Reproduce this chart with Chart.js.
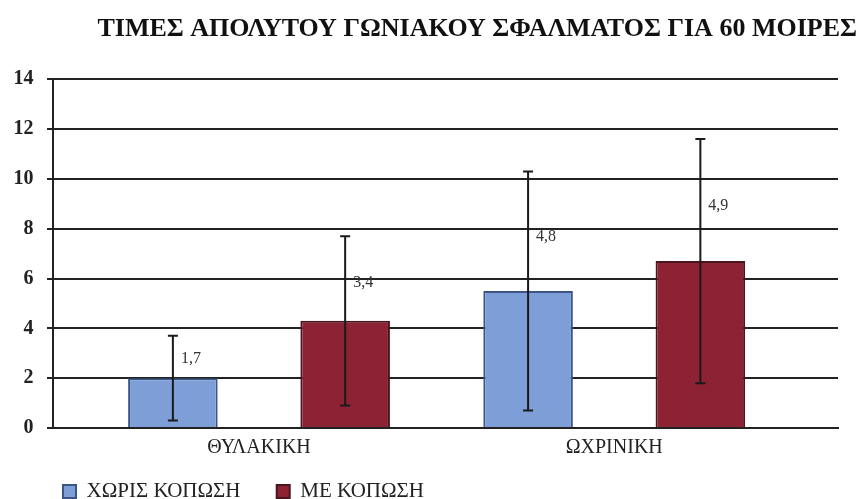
<!DOCTYPE html>
<html>
<head>
<meta charset="utf-8">
<script src="https://cdn.jsdelivr.net/npm/chart.js@4"></script>
<style>
  html, body { margin: 0; padding: 0; background: #fff; }
  #wrap { width: 860px; height: 499px; }
</style>
</head>
<body>
<div id="wrap"><canvas id="chart" width="860" height="499"></canvas></div>
<script>
// Datos del gráfico
const categories = ['ΘΥΛΑΚΙΚΗ', 'ΩΧΡΙΝΙΚΗ'];
const seriesNames = ['ΧΩΡΙΣ ΚΟΠΩΣΗ', 'ΜΕ ΚΟΠΩΣΗ'];
const withoutFatigue = [2.0, 5.5];
const withFatigue = [4.3, 6.7];
const sdWithout = [1.7, 4.8];
const sdWith = [3.4, 4.9];
const sdLabels = [['1,7', '4,8'], ['3,4', '4,9']];
const yTicks = [0, 2, 4, 6, 8, 10, 12, 14];

const serif = "'Liberation Serif', 'DejaVu Serif', serif";

// plugin para barras de error y etiquetas
const errorBars = {
  id: 'errorBars',
  afterDatasetsDraw(chart) {
    const ctx = chart.ctx;
    const y = chart.scales.y;
    const sds = [sdWithout, sdWith];
    chart.data.datasets.forEach((ds, di) => {
      const meta = chart.getDatasetMeta(di);
      meta.data.forEach((bar, i) => {
        const mean = ds.data[i].y;
        const sd = sds[di][i];
        const top = y.getPixelForValue(mean + sd);
        const bot = y.getPixelForValue(mean - sd);
        ctx.save();
        ctx.strokeStyle = '#1a1a1a';
        ctx.lineWidth = 2;
        ctx.beginPath();
        ctx.moveTo(bar.x, top);
        ctx.lineTo(bar.x, bot);
        ctx.moveTo(bar.x - 5, top);
        ctx.lineTo(bar.x + 5, top);
        ctx.moveTo(bar.x - 5, bot);
        ctx.lineTo(bar.x + 5, bot);
        ctx.stroke();
        ctx.fillStyle = '#333';
        ctx.font = '16px ' + serif;
        ctx.textAlign = 'left';
        ctx.textBaseline = 'middle';
        ctx.fillText(sdLabels[di][i], bar.x + 8, y.getPixelForValue(mean + sd * 0.45));
        ctx.restore();
      });
    });
  }
};

const ctx = document.getElementById('chart').getContext('2d');
new Chart(ctx, {
  type: 'bar',
  data: {
    datasets: [{
      label: seriesNames[0],
      data: withoutFatigue.map((v, i) => ({ x: i, y: v })),
      backgroundColor: '#7e9ed8',
      borderColor: '#3b5584',
      borderWidth: 2
    }, {
      label: seriesNames[1],
      data: withFatigue.map((v, i) => ({ x: i, y: v })),
      backgroundColor: '#8d2234',
      borderColor: '#4a161e',
      borderWidth: 2
    }]
  },
  options: {
    responsive: false,
    animation: false,
    layout: { padding: { left: 0, right: 3, top: 0, bottom: -13 } },
    datasets: {
      bar: { categoryPercentage: 0.97, barPercentage: 0.52 }
    },
    plugins: {
      title: {
        display: true,
        align: 'end',
        text: 'ΤΙΜΕΣ ΑΠΟΛΥΤΟΥ ΓΩΝΙΑΚΟΥ ΣΦΑΛΜΑΤΟΣ ΓΙΑ 60 ΜΟΙΡΕΣ',
        color: '#111',
        font: { family: serif, size: 26, weight: 'bold' },
        padding: { top: 14, bottom: 34 }
      },
      legend: {
        position: 'bottom',
        align: 'start',
        fullSize: false,
        labels: {
          color: '#222',
          font: { family: serif, size: 21 },
          boxWidth: 13,
          boxHeight: 13,
          padding: 10,
          generateLabels: (chart) => {
            const items = Chart.defaults.plugins.legend.labels.generateLabels(chart);
            // espacio extra entre las entradas
            items.forEach((it, i) => { if (i < items.length - 1) it.text += '\u2003 '; });
            return items;
          }
        }
      },
      tooltip: { enabled: false }
    },
    scales: {
      x: {
        type: 'linear',
        offset: false,
        min: -0.58,
        max: 1.63,
        afterBuildTicks: (scale) => {
          scale.ticks = categories.map((c, i) => ({ value: i }));
        },
        afterFit: (scale) => { scale.height += 11; },
        ticks: {
          color: '#222',
          font: { family: serif, size: 20 },
          padding: 0,
          callback: (v) => categories[v]
        },
        grid: { display: false },
        border: { display: true, color: '#222', width: 2 }
      },
      y: {
        min: 0,
        max: 14,
        afterBuildTicks: (scale) => {
          scale.ticks = yTicks.map(v => ({ value: v }));
        },
        ticks: {
          color: '#222',
          font: { family: serif, size: 20, weight: 'bold' },
          padding: 13.5
        },
        grid: { color: '#222', lineWidth: 2, tickLength: 6 },
        border: { display: true, color: '#222', width: 2 }
      },
      y2: {
        position: 'right',
        ticks: { display: false },
        grid: { display: false },
        border: { display: false },
        afterFit: (scale) => { scale.width = 19; }
      }
    }
  },
  plugins: [errorBars]
});
</script>
</body>
</html>
